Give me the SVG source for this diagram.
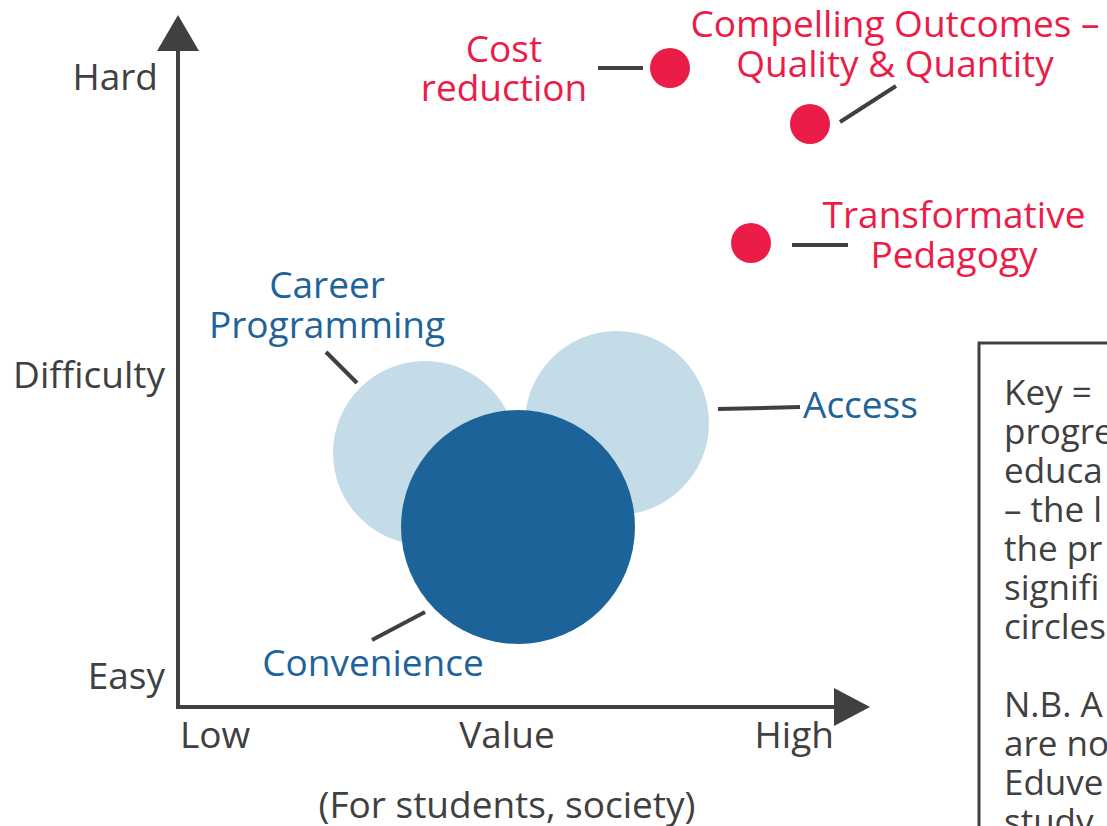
<svg xmlns="http://www.w3.org/2000/svg" width="1107" height="826" viewBox="0 0 1107 826">
<style>
text{font-family:"Open Sans","Noto Sans",sans-serif;font-size:37px}
.ax{fill:#404040}
.k{font-size:35px}
.red{fill:#ec1c48}
.blue{fill:#1e6399}
.con{stroke:#404040;stroke-width:4;fill:none;stroke-linecap:butt}
.dot{fill:#ec1c48}
</style>
<rect width="1107" height="826" fill="#ffffff"/>
<g id="axes">
<line x1="178" y1="48" x2="178" y2="709" stroke="#404040" stroke-width="4"/>
<polygon points="178,15 157,51 199,51" fill="#404040"/>
<line x1="176" y1="707" x2="836" y2="707" stroke="#404040" stroke-width="4"/>
<polygon points="870,707 834,688 834,726" fill="#404040"/>
<text class="ax" x="158" y="90" text-anchor="end">Hard</text>
<text class="ax" x="165" y="388" text-anchor="end">Difficulty</text>
<text class="ax" x="165" y="689" text-anchor="end">Easy</text>
<text class="ax" x="180" y="748">Low</text>
<text class="ax" x="507" y="748" text-anchor="middle">Value</text>
<text class="ax" x="834" y="748" text-anchor="end">High</text>
<text class="ax" x="507" y="818" text-anchor="middle">(For students, society)</text>
</g>
<g id="career">
<circle cx="425" cy="453" r="92" fill="#c4dbe8"/>
<text class="blue" x="327" y="298" text-anchor="middle">Career</text>
<text class="blue" x="327" y="338" text-anchor="middle">Programming</text>
</g>
<g id="access">
<circle cx="617" cy="423" r="92" fill="#c4dbe8"/>
<text class="blue" x="803" y="418">Access</text>
</g>
<g id="convenience">
<circle cx="518" cy="527" r="117" fill="#1c6399"/>
<text class="blue" x="373" y="676" text-anchor="middle">Convenience</text>
</g>
<g id="cost">
<circle class="dot" cx="670" cy="68" r="20"/>
<text class="red" x="504" y="62" text-anchor="middle">Cost</text>
<text class="red" x="504" y="101" text-anchor="middle">reduction</text>
</g>
<g id="outcomes">
<circle class="dot" cx="810" cy="124" r="20"/>
<text class="red" x="895" y="37" text-anchor="middle">Compelling Outcomes –</text>
<text class="red" x="895" y="77" text-anchor="middle">Quality &amp; Quantity</text>
</g>
<g id="pedagogy">
<circle class="dot" cx="751" cy="243" r="20"/>
<text class="red" x="954" y="228" text-anchor="middle">Transformative</text>
<text class="red" x="954" y="268" text-anchor="middle">Pedagogy</text>
</g>
<g id="connectors">
<line class="con" x1="598" y1="68" x2="643" y2="68"/>
<line class="con" x1="840" y1="122" x2="896" y2="86"/>
<line class="con" x1="792" y1="245" x2="848" y2="245"/>
<line class="con" x1="326" y1="352" x2="357" y2="383"/>
<line class="con" x1="718" y1="409" x2="800" y2="407"/>
<line class="con" x1="372" y1="640" x2="425" y2="612"/>
</g>
<g id="key">
<rect x="979" y="343" width="200" height="520" fill="#ffffff" stroke="#404040" stroke-width="3"/>
<text class="ax k" x="1004" y="405">Key =</text>
<text class="ax k" x="1004" y="444">progre</text>
<text class="ax k" x="1004" y="483">educa</text>
<text class="ax k" x="1004" y="522">– the l</text>
<text class="ax k" x="1004" y="561">the pr</text>
<text class="ax k" x="1004" y="600">signifi</text>
<text class="ax k" x="1004" y="639">circles</text>
<text class="ax k" x="1004" y="717">N.B. A</text>
<text class="ax k" x="1004" y="756">are no</text>
<text class="ax k" x="1004" y="795">Eduve</text>
<text class="ax k" x="1004" y="834">study</text>
</g>
</svg>
